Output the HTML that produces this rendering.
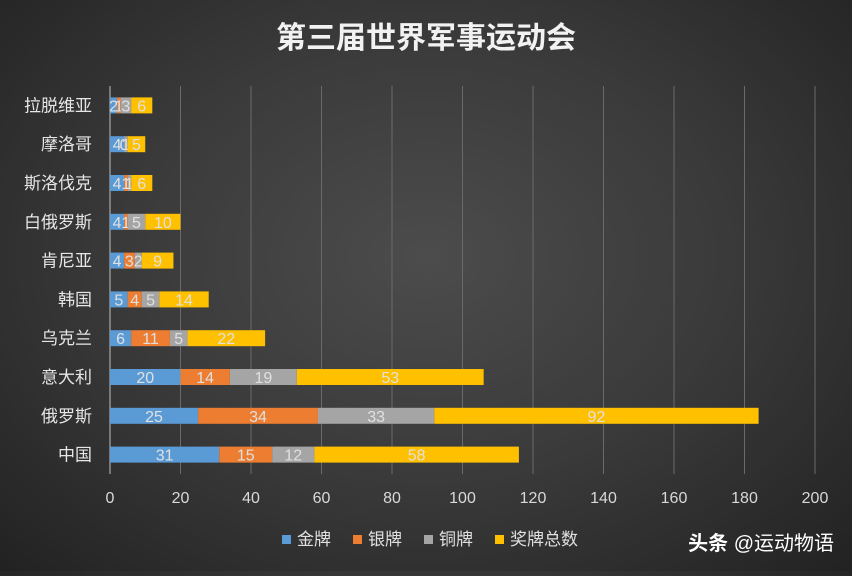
<!DOCTYPE html>
<html><head><meta charset="utf-8"><style>
body{margin:0;width:852px;height:571px;overflow:hidden;background:radial-gradient(ellipse at 50% 45%,#4c4c4c 0%,#3a3a3a 50%,#222 100%);font-family:"Liberation Sans","Noto Sans CJK SC",sans-serif;}
</style></head><body>
<svg id="c" width="852" height="571" xmlns="http://www.w3.org/2000/svg"></svg>
<script>
const categories=["中国","俄罗斯","意大利","乌克兰","韩国","肯尼亚","白俄罗斯","斯洛伐克","摩洛哥","拉脱维亚"];
const gold=[31,25,20,6,5,4,4,4,4,2];
const silver=[15,34,14,11,4,3,1,1,0,1];
const bronze=[12,33,19,5,5,2,5,1,1,3];
const total=[58,92,53,22,14,9,10,6,5,6];
const ticks=[0,20,40,60,80,100,120,140,160,180,200];
const seriesNames=["金牌","银牌","铜牌","奖牌总数"];
const colors=["#5b9bd5","#ed7d31","#a5a5a5","#ffc000"];
const svg=document.getElementById('c');const NS="http://www.w3.org/2000/svg";
function mk(t,a,txt){const e=document.createElementNS(NS,t);for(const k in a)e.setAttribute(k,a[k]);if(txt!=null)e.textContent=txt;svg.appendChild(e);return e;}
const x0=110,x1=815,yTop=86,yBot=474;
const xs=v=>x0+(v/200)*(x1-x0);
const band=(yBot-yTop)/categories.length;
const yc=i=>yBot-band*(i+0.5);
let t=mk('text',{x:426,y:48,'text-anchor':'middle','font-size':30,'font-weight':'bold',fill:'#f2f2f2'},'第三届世界军事运动会');

ticks.forEach(v=>{
 const l=mk('line',{x1:xs(v),x2:xs(v),y1:yTop,y2:yBot,stroke:v===0?'#bfbfbf':'#6a6a6a','stroke-width':1});
 
 const tx=mk('text',{x:xs(v),y:503,'text-anchor':'middle','font-size':16,fill:'#d9d9d9'},v);
 
});
const series=[gold,silver,bronze,total];
categories.forEach((c,i)=>{
 const lb=mk('text',{x:92,y:yc(i)+6,'text-anchor':'end','font-size':17,fill:'#e6e6e6'},c);
 
 let acc=0;
 series.forEach((s,k)=>{
  const v=s[i];const xa=xs(acc),xb=xs(acc+v);
  const r=mk('rect',{x:xa,y:yc(i)-8,width:Math.max(0,xb-xa),height:16,fill:colors[k]});
  
  const tv=mk('text',{x:(xa+xb)/2,y:yc(i)+6,'text-anchor':'middle','font-size':16,fill:'#e0e0e0'},v);
  
  acc+=v;
 });
});
let lx=282;
seriesNames.forEach((n,k)=>{
 const r=mk('rect',{x:lx,y:535,width:9,height:9,fill:colors[k]});
 
 const tx=mk('text',{x:lx+15,y:545,'font-size':17,fill:'#e0e0e0'},n);
 
 lx+=15+n.length*17+22;
});
const w=mk('text',{x:834,y:550,'text-anchor':'end','font-size':20,fill:'#ffffff'});

const b=document.createElementNS(NS,'tspan');b.setAttribute('font-weight','bold');b.textContent='头条 ';w.appendChild(b);
const s2=document.createElementNS(NS,'tspan');s2.textContent='@运动物语';w.appendChild(s2);
</script>
</body></html>
